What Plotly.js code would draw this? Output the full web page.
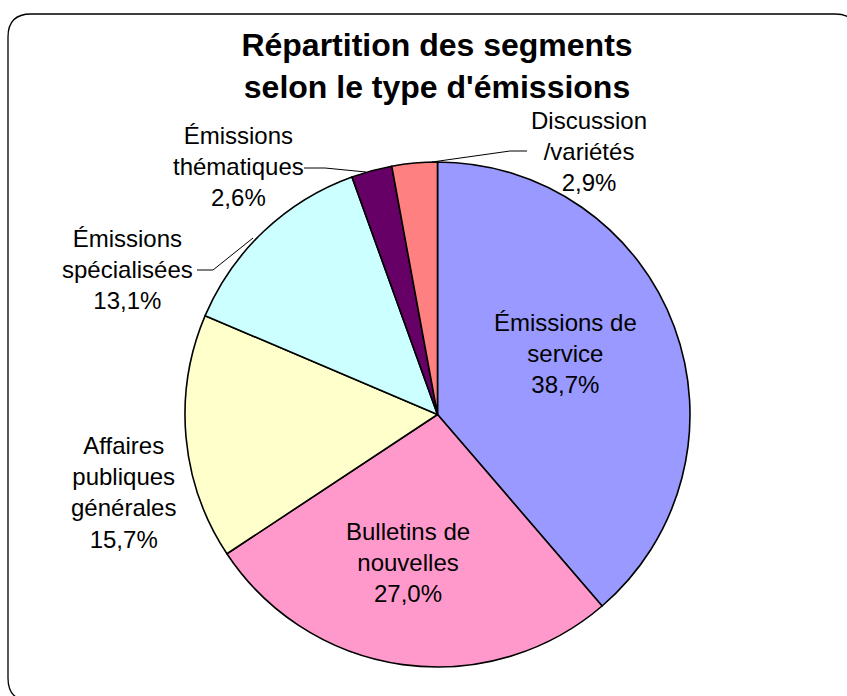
<!DOCTYPE html>
<html>
<head>
<meta charset="utf-8">
<script src="https://cdn.plot.ly/plotly-3.0.1.min.js"></script>
<style>
  body { margin: 0; background: #fff; }
  #chart { width: 847px; height: 696px; }
</style>
</head>
<body>
<div id="chart"></div>
<script>
// Data (share of segments, %)
var categories = [
  "Émissions de<br>service",
  "Bulletins de<br>nouvelles",
  "Affaires<br>publiques<br>générales",
  "Émissions<br>spécialisées",
  "Émissions<br>thématiques",
  "Discussion<br>/variétés"
];
var shares = [38.7, 27.0, 15.7, 13.1, 2.6, 2.9];
var sliceColors = ["#9999FF", "#FF99CC", "#FFFFCC", "#CCFFFF", "#660066", "#FF8080"];

// Label placement in pixels (x, y of the text block centre)
var labelPos = [[565, 353], [408, 562], [123, 492], [127, 269], [238, 167], [589, 151]];
// Leader lines for the small slices, in pixels
var leaders = [
  [[197, 270], [213, 270], [253, 238]],
  [[304, 168], [325, 168], [366, 172]],
  [[527, 151], [510, 151], [432, 162]]
];

var W = 847, H = 696;
function px(x) { return x / W; }
function py(y) { return 1 - y / H; }

function fmt(v) {
  return v.toFixed(1).replace(".", ",") + "%";
}

var data = [{
  type: "pie",
  labels: categories,
  values: shares,
  sort: false,
  direction: "clockwise",
  rotation: 0,
  marker: { colors: sliceColors, line: { color: "#000", width: 1.6 } },
  textinfo: "none",
  hoverinfo: "none",
  showlegend: false,
  domain: { x: [px(183), px(692)], y: [py(667), py(162)] }
}];

var annotations = categories.map(function (c, i) {
  return {
    text: c + "<br>" + fmt(shares[i]),
    x: px(labelPos[i][0]),
    y: py(labelPos[i][1]),
    xref: "paper", yref: "paper",
    xanchor: "center", yanchor: "middle",
    showarrow: false,
    align: "center",
    font: { family: "Liberation Sans, Arial, sans-serif", size: 24, color: "#000" }
  };
});

var shapes = leaders.map(function (pts) {
  var d = "M " + pts.map(function (p) { return px(p[0]) + "," + py(p[1]); }).join(" L ");
  return { type: "path", xref: "paper", yref: "paper", path: d,
           line: { color: "#000", width: 1 } };
});

// Rounded chart frame, partly outside the picture on the right and bottom
var L = 8, T = 14, R = 858, B = 701, r = 23;
var frame = "M " + px(L + r) + "," + py(T) +
  " L " + px(R - r) + "," + py(T) +
  " Q " + px(R) + "," + py(T) + " " + px(R) + "," + py(T + r) +
  " L " + px(R) + "," + py(B - r) +
  " Q " + px(R) + "," + py(B) + " " + px(R - r) + "," + py(B) +
  " L " + px(L + r) + "," + py(B) +
  " Q " + px(L) + "," + py(B) + " " + px(L) + "," + py(B - r) +
  " L " + px(L) + "," + py(T + r) +
  " Q " + px(L) + "," + py(T) + " " + px(L + r) + "," + py(T) + " Z";
shapes.push({ type: "path", xref: "paper", yref: "paper", path: frame,
              line: { color: "#000", width: 1.3 }, layer: "below" });

var layout = {
  width: W,
  height: H,
  margin: { l: 0, r: 0, t: 0, b: 0 },
  paper_bgcolor: "#fff",
  title: {
    text: "<b>Répartition des segments<br>selon le type d'émissions</b>",
    x: px(437), xanchor: "center",
    y: py(56), yanchor: "middle", yref: "container",
    font: { family: "Liberation Sans, Arial, sans-serif", size: 32, color: "#000" }
  },
  annotations: annotations,
  shapes: shapes
};

Plotly.newPlot("chart", data, layout, { displayModeBar: false, staticPlot: true });
</script>
</body>
</html>
